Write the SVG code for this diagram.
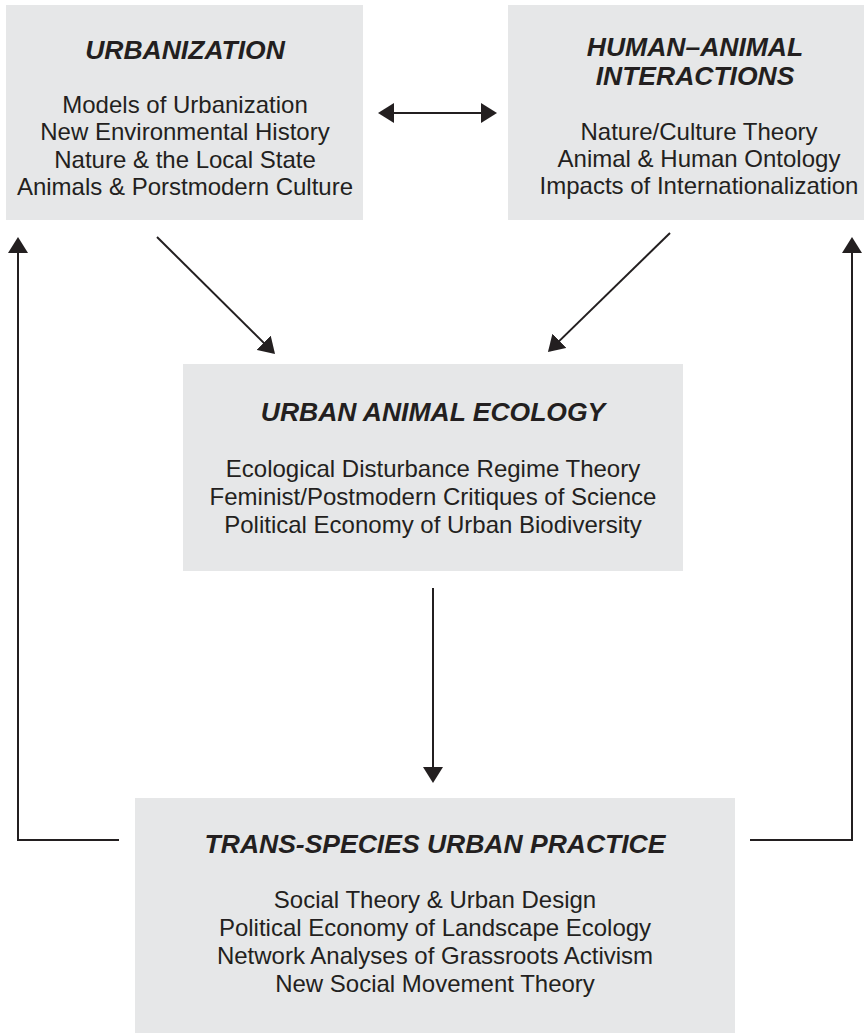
<svg xmlns="http://www.w3.org/2000/svg" width="864" height="1033" viewBox="0 0 864 1033">
<style>
.box{fill:#e6e7e8;}
.t{font-family:"Liberation Sans",Arial,sans-serif;font-size:26.5px;font-weight:bold;font-style:italic;fill:#231f20;text-anchor:middle;}
.b{font-family:"Liberation Sans",Arial,sans-serif;font-size:24px;fill:#231f20;text-anchor:middle;}
.c{fill:none;stroke:#231f20;stroke-width:2;}
</style>
<defs>
<marker id="ah" viewBox="0 0 16 20" refX="14" refY="10" markerWidth="16" markerHeight="20" markerUnits="userSpaceOnUse" orient="auto-start-reverse">
<path d="M0,0 L16,10 L0,20 z" fill="#231f20"/>
</marker>
</defs>
<rect width="864" height="1033" fill="#ffffff"/>
<g id="urbanization">
<rect class="box" x="6" y="5" width="357" height="215"/>
<text class="t" x="185" y="59">URBANIZATION</text>
<text class="b" x="185" y="113">Models of Urbanization</text>
<text class="b" x="185" y="140">New Environmental History</text>
<text class="b" x="185" y="168">Nature &amp; the Local State</text>
<text class="b" x="185" y="195">Animals &amp; Porstmodern Culture</text>
</g>
<g id="human-animal">
<rect class="box" x="508" y="5" width="356" height="215"/>
<text class="t" x="695" y="56">HUMAN–ANIMAL</text>
<text class="t" x="695" y="85">INTERACTIONS</text>
<text class="b" x="699" y="140">Nature/Culture Theory</text>
<text class="b" x="699" y="167">Animal &amp; Human Ontology</text>
<text class="b" x="699" y="194">Impacts of Internationalization</text>
</g>
<g id="urban-animal-ecology">
<rect class="box" x="183" y="364" width="500" height="207"/>
<text class="t" x="433" y="421">URBAN ANIMAL ECOLOGY</text>
<text class="b" x="433" y="477">Ecological Disturbance Regime Theory</text>
<text class="b" x="433" y="505">Feminist/Postmodern Critiques of Science</text>
<text class="b" x="433" y="533">Political Economy of Urban Biodiversity</text>
</g>
<g id="trans-species">
<rect class="box" x="135" y="798" width="600" height="235"/>
<text class="t" x="435" y="853">TRANS-SPECIES URBAN PRACTICE</text>
<text class="b" x="435" y="908">Social Theory &amp; Urban Design</text>
<text class="b" x="435" y="936">Political Economy of Landscape Ecology</text>
<text class="b" x="435" y="964">Network Analyses of Grassroots Activism</text>
<text class="b" x="435" y="992">New Social Movement Theory</text>
</g>
<g id="connectors">
<line class="c" x1="380" y1="113" x2="495" y2="113" marker-start="url(#ah)" marker-end="url(#ah)"/>
<line class="c" x1="157" y1="237" x2="273.6" y2="352.6" marker-end="url(#ah)"/>
<line class="c" x1="670" y1="233" x2="549.4" y2="350.6" marker-end="url(#ah)"/>
<line class="c" x1="433" y1="588" x2="433" y2="781" marker-end="url(#ah)"/>
<polyline class="c" points="119,840 18,840 18,239" marker-end="url(#ah)"/>
<polyline class="c" points="750,840 852,840 852,239" marker-end="url(#ah)"/>
</g>
</svg>
